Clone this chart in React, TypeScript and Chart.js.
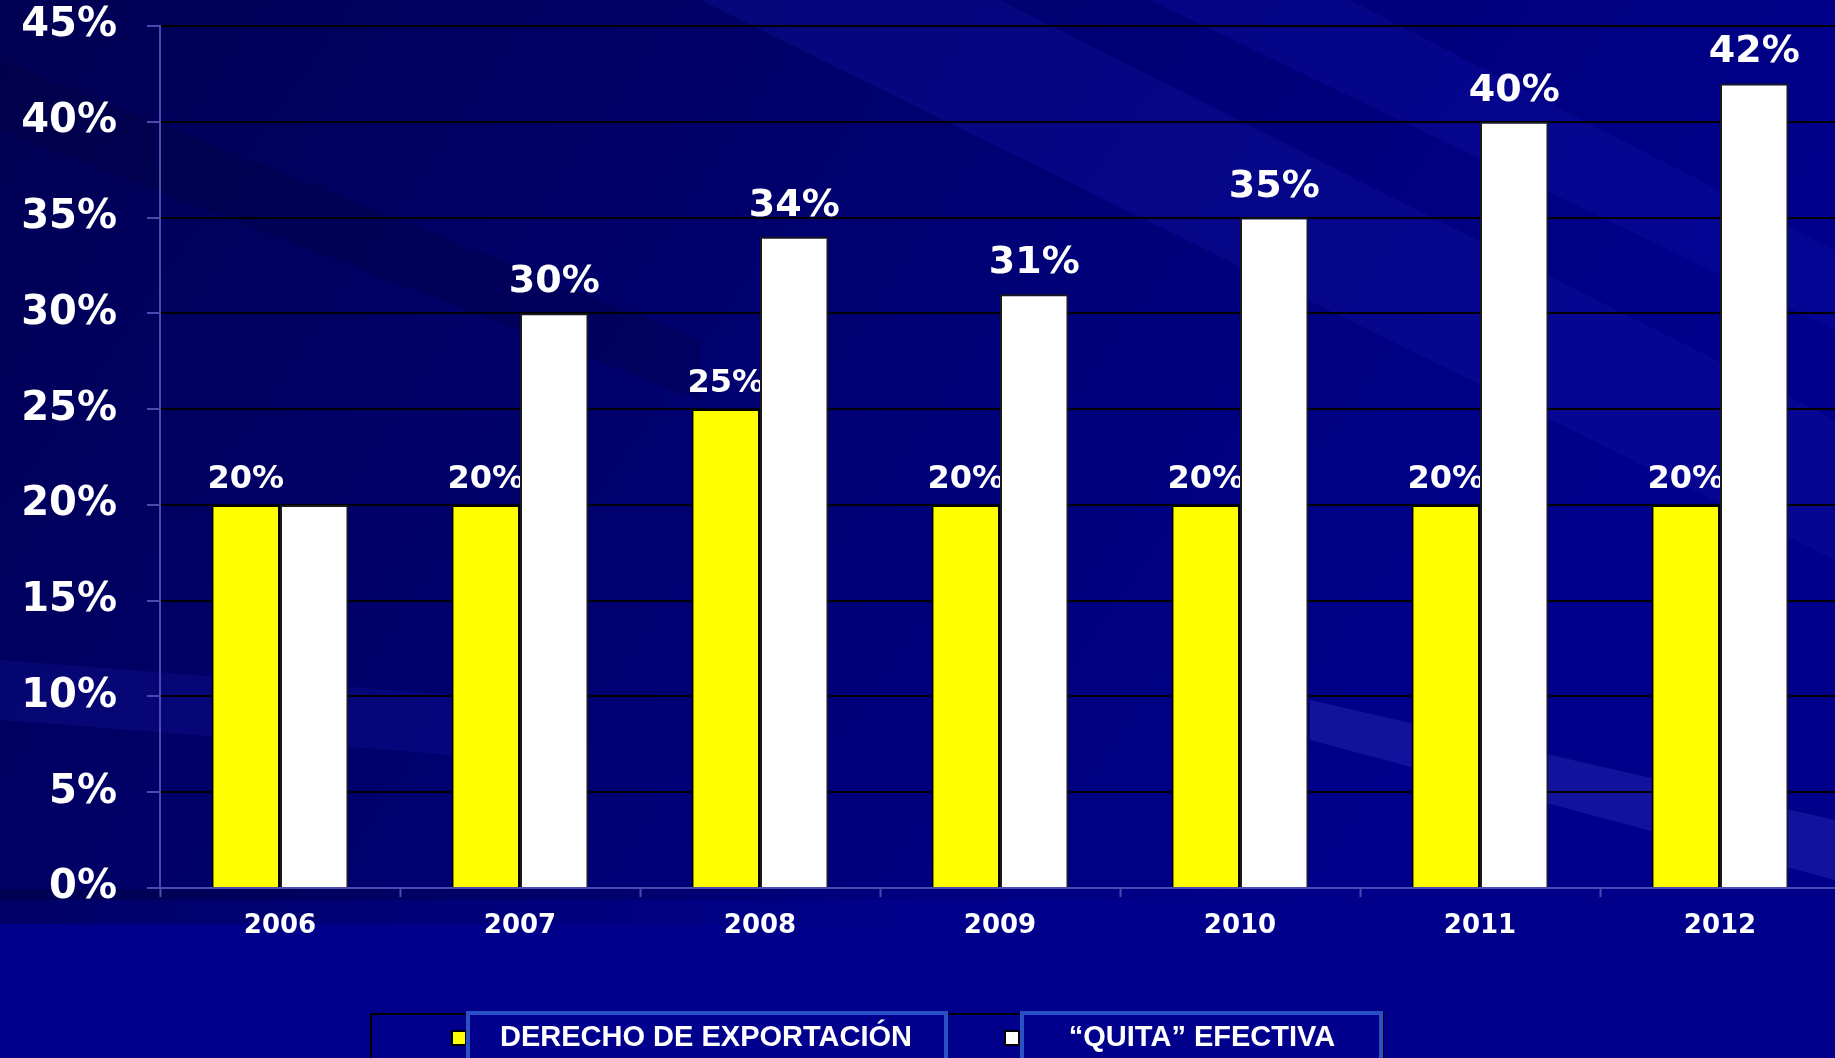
import React, { useEffect, useRef } from 'react';
import { Chart, registerables } from 'chart.js';

Chart.register(...registerables);

// ---- data ----
const years = ['2006', '2007', '2008', '2009', '2010', '2011', '2012'];
const derechoExportacion = [20, 20, 25, 20, 20, 20, 20];
const quitaEfectiva = [20, 30, 34, 31, 35, 40, 42];
const quitaLabelShown = [false, true, true, true, true, true, true];
const seriesNames = ['DERECHO DE EXPORTACIÓN', '\u201CQUITA\u201D EFECTIVA'];
const seriesColors = ['#FFFF00', '#FFFFFF'];
const yMax = 45;
const yStep = 5;

const AXIS = '#4A4AB0';
const W = 1840;
const H = 1058;

const backgroundPlugin = {
  id: 'bg',
  beforeDraw(chart: any) {
    const ctx = chart.ctx;
    ctx.save();
    ctx.fillStyle = '#00008A';
    ctx.fillRect(0, 0, W, H);
    const g = ctx.createLinearGradient(0, 0, 1300, 900);
    g.addColorStop(0, 'rgba(0,0,45,0.6)');
    g.addColorStop(0.45, 'rgba(0,0,50,0.35)');
    g.addColorStop(1, 'rgba(0,0,60,0)');
    ctx.fillStyle = g;
    ctx.fillRect(0, 0, W, 900);
    // diagonal streaks
    const streaks = [
      { pts: [[700, 0], [1000, 0], [1835, 420], [1835, 560]], c: 'rgba(20,20,170,0.3)' },
      { pts: [[1150, 0], [1350, 0], [1835, 250], [1835, 330]], c: 'rgba(20,20,180,0.25)' },
      { pts: [[0, 60], [0, 130], [700, 400], [700, 340]], c: 'rgba(0,0,40,0.2)' },
      { pts: [[1310, 700], [1310, 740], [1835, 880], [1835, 820]], c: 'rgba(60,60,200,0.3)' },
      { pts: [[0, 660], [0, 720], [520, 760], [520, 700]], c: 'rgba(20,20,160,0.3)' },
    ];
    streaks.forEach((s) => {
      ctx.beginPath();
      ctx.moveTo(s.pts[0][0], s.pts[0][1]);
      for (let i = 1; i < s.pts.length; i++) ctx.lineTo(s.pts[i][0], s.pts[i][1]);
      ctx.closePath();
      ctx.fillStyle = s.c;
      ctx.fill();
    });
    const band = ctx.createLinearGradient(0, 0, 900, 0);
    band.addColorStop(0, 'rgba(0,0,50,0.4)');
    band.addColorStop(1, 'rgba(0,0,50,0)');
    ctx.fillStyle = band;
    ctx.fillRect(0, 889, 900, 35);
    ctx.restore();
  },
};

function drawValueLabels(chart: any, di: number, size: number, gap: number, values: number[], shown?: boolean[]) {
  const meta = chart.getDatasetMeta(di);
  const ctx = chart.ctx;
  ctx.save();
  ctx.font = `bold ${size}px "DejaVu Sans"`;
  ctx.fillStyle = '#FFFFFF';
  ctx.textAlign = 'center';
  ctx.textBaseline = 'alphabetic';
  meta.data.forEach((el: any, i: number) => {
    if (shown && !shown[i]) return;
    ctx.fillText(values[i] + '%', el.x, el.y - gap);
  });
  ctx.restore();
}

const labelPlugin = {
  id: 'valueLabels',
  beforeDatasetsDraw(chart: any) {
    drawValueLabels(chart, 0, 32, 17, derechoExportacion);
  },
  afterDatasetsDraw(chart: any) {
    drawValueLabels(chart, 1, 38, 21, quitaEfectiva, quitaLabelShown);
  },
};

const legendPlugin = {
  id: 'customLegend',
  afterDraw(chart: any) {
    const ctx = chart.ctx;
    ctx.save();
    ctx.strokeStyle = '#000000';
    ctx.lineWidth = 2;
    ctx.strokeRect(371, 1014, 1012, 80);
    const items = [
      { sq: 452, box: [466, 948], tx: 706 },
      { sq: 1005, box: [1020, 1383], tx: 1202 },
    ];
    items.forEach((it, i) => {
      ctx.fillStyle = seriesColors[i];
      ctx.fillRect(it.sq, 1031, 14, 14);
      ctx.strokeStyle = '#000';
      ctx.lineWidth = 2;
      ctx.strokeRect(it.sq, 1031, 14, 14);
      ctx.fillStyle = '#00008C';
      ctx.fillRect(it.box[0], 1011, it.box[1] - it.box[0], 60);
      ctx.strokeStyle = '#2B4FC4';
      ctx.lineWidth = 4;
      ctx.strokeRect(it.box[0] + 2, 1013, it.box[1] - it.box[0] - 4, 60);
      ctx.fillStyle = '#FFFFFF';
      ctx.font = 'bold 29px "Liberation Sans", Arial, sans-serif';
      ctx.textAlign = 'center';
      ctx.textBaseline = 'middle';
      ctx.fillText(seriesNames[i], it.tx, 1038);
    });
    ctx.restore();
  },
};

export default function App() {
  const ref = useRef<HTMLCanvasElement | null>(null);

  useEffect(() => {
    document.body.style.margin = '0';
    document.body.style.overflow = 'hidden';
    const canvas = ref.current;
    if (!canvas) return;
    const chart = new Chart(canvas, {
      type: 'bar',
      data: {
        labels: years,
        datasets: [
          {
            label: seriesNames[0],
            data: derechoExportacion,
            backgroundColor: seriesColors[0],
            borderColor: '#000000',
            borderWidth: 2,
            categoryPercentage: 0.571,
            barPercentage: 1,
          },
          {
            label: seriesNames[1],
            data: quitaEfectiva,
            backgroundColor: seriesColors[1],
            borderColor: '#1A1A1A',
            borderWidth: 2,
            categoryPercentage: 0.571,
            barPercentage: 1,
          },
        ],
      },
      options: {
        responsive: false,
        animation: false,
        devicePixelRatio: 1,
        layout: { padding: { top: 26, right: 0, bottom: 0, left: 0 } },
        plugins: {
          legend: { display: false },
          tooltip: { enabled: false },
        },
        scales: {
          x: {
            grid: {
              display: true,
              drawOnChartArea: false,
              offset: true,
              tickLength: 9,
              tickColor: AXIS,
              tickWidth: 2,
            },
            border: { display: true, color: AXIS, width: 2 },
            ticks: {
              color: '#FFFFFF',
              font: { family: '"DejaVu Sans"', weight: 'bold', size: 26 },
              padding: 14,
            },
            afterFit: (s: any) => {
              s.height = 170;
            },
          },
          y: {
            min: 0,
            max: yMax,
            ticks: {
              stepSize: yStep,
              callback: (v: any) => v + '%',
              color: '#FFFFFF',
              font: { family: '"DejaVu Sans"', weight: 'bold', size: 40 },
              padding: 30,
            },
            grid: {
              color: (c: any) => (c.tick && c.tick.value === 0 ? 'rgba(0,0,0,0)' : '#000000'),
              lineWidth: 2,
              tickLength: 13,
              tickColor: AXIS,
              tickWidth: 2,
            },
            border: { display: true, color: AXIS, width: 2 },
            afterFit: (s: any) => {
              s.width = 160;
              s.paddingTop = 0;
              s.paddingBottom = 0;
            },
          },
        },
      },
      plugins: [backgroundPlugin, labelPlugin, legendPlugin],
    });
    return () => chart.destroy();
  }, []);

  return (
    <div style={{ width: 1835, height: 1058, overflow: 'hidden', position: 'relative' }}>
      <canvas ref={ref} width={W} height={H} style={{ display: 'block' }} />
    </div>
  );
}
